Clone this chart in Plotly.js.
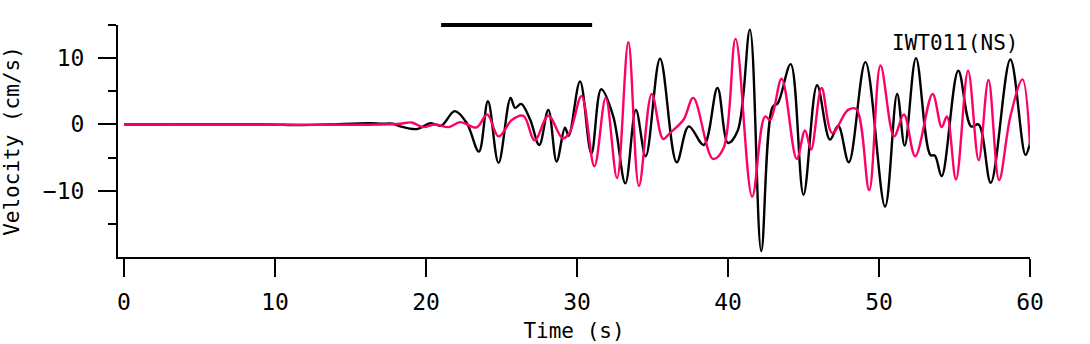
<!DOCTYPE html>
<html>
<head>
<meta charset="utf-8">
<script src="https://cdn.plot.ly/plotly-3.0.1.min.js"></script>
<style>html,body{margin:0;padding:0;background:#fff;}#chart{width:1090px;height:344px;}</style>
</head>
<body>
<div id="chart"></div>
<script>
// Black trace (time s, velocity cm/s)
const tBlack = [0, 5, 9.5, 11.6, 13.5, 16.3, 17.0, 17.8, 18.3, 19.4, 20.3, 21.0, 21.9, 22.7, 23.5, 24.1, 24.8, 25.6, 25.9, 26.3, 26.9, 27.5, 28.1, 28.65, 29.2, 29.45, 30.2, 30.95, 31.6, 32.4, 33.2, 33.9, 34.55, 35.5, 36.6, 37.4, 38.4, 39.3, 40.0, 40.65, 41.45, 42.2, 42.95, 43.3, 44.15, 45.0, 45.9, 46.75, 47.3, 48.0, 49.1, 50.4, 51.2, 51.7, 52.45, 53.4, 53.7, 54.15, 55.25, 56.1, 56.6, 57.4, 58.7, 59.7, 60.0];
const vBlack = [0, 0, 0, -0.1, 0, 0.2, 0.1, 0.1, -0.3, -0.7, 0.2, -0.2, 2.0, 0.2, -4.1, 3.5, -5.8, 4.0, 2.5, 3.1, 0.7, -3.1, 2.2, -5.6, -0.5, -1.7, 6.5, -4.4, 5.3, 1.2, -8.9, 2.2, -4.8, 9.9, -5.7, -0.3, -3.1, 5.5, -2.8, -0.9, 14.3, -19.1, 2.6, 3.2, 9.1, -10.6, 5.9, -2.3, -0.2, -5.7, 9.4, -12.4, 4.6, -3.2, 10.0, -4.6, -4.7, -7.8, 8.1, -0.3, 0.0, -8.8, 9.8, -4.6, -2.8];
// Pink trace
const tPink = [0, 17.0, 18.3, 19.05, 19.8, 20.6, 21.5, 22.25, 23.35, 24.05, 24.8, 25.7, 26.45, 27.2, 28.1, 29.05, 29.5, 30.3, 31.15, 31.9, 32.65, 33.4, 34.1, 34.95, 35.7, 36.15, 37.05, 37.7, 39.0, 39.7, 40.5, 41.6, 42.45, 42.8, 43.55, 44.55, 45.1, 45.5, 46.2, 46.9, 47.95, 48.5, 49.35, 50.1, 51.0, 51.65, 52.4, 53.55, 54.15, 54.5, 55.1, 55.9, 56.6, 57.25, 57.95, 58.7, 59.5, 60.0];
const vPink = [0, 0, 0.1, 0.3, -0.4, 0, -0.4, 0.35, -0.45, 1.5, -1.8, 0.7, 1.3, -2.4, 1.3, -2.1, -1.3, 4.3, -6.3, 4.0, -8.1, 12.4, -9.3, 4.6, -2.2, -1.3, 0.7, 4.0, -5.2, -3.6, 12.9, -10.9, 1.2, 0.7, 6.9, -5.2, -0.9, -3.8, 5.5, -1.3, 2.2, 2.3, -9.9, 8.9, -1.8, 1.5, -4.8, 4.6, -0.4, 1.2, -8.3, 8.1, -5.4, 6.7, -8.4, 1.2, 6.8, -3.3];
// Window bar
const barT = [21, 31];
const barV = [15, 15];
// Axis ticks
const xTicks = [0, 10, 20, 30, 40, 50, 60];
const yTicks = [-10, 0, 10];
const stationLabel = "IWT011(NS)";

const FONT = "DejaVu Sans Mono, Liberation Mono, monospace";
const yRange = [-20, 15];
const toPaperY = v => (v - yRange[0]) / (yRange[1] - yRange[0]);

const traces = [
  {x: tBlack, y: vBlack, mode: 'lines', line: {color: '#000000', width: 2.4, shape: 'spline', smoothing: 1}, hoverinfo: 'skip'},
  {x: tPink, y: vPink, mode: 'lines', line: {color: '#FF0066', width: 2.4, shape: 'spline', smoothing: 1}, hoverinfo: 'skip'}
];

const layout = {
  width: 1090, height: 344,
  margin: {l: 118, r: 60, t: 25, b: 87},
  paper_bgcolor: '#ffffff', plot_bgcolor: '#ffffff',
  showlegend: false,
  font: {family: FONT, color: '#000', size: 21},
  xaxis: {
    range: [-0.4, 60], tickvals: xTicks, ticktext: xTicks.map(String),
    showline: true, linecolor: '#000', linewidth: 2, mirror: false,
    ticks: 'outside', ticklen: 18, tickwidth: 2, tickcolor: '#000',
    showgrid: false, zeroline: false,
    tickfont: {family: FONT, size: 23, color: '#000'},
    ticklabelstandoff: 5,
    title: {text: 'Time (s)', font: {family: FONT, size: 21, color: '#000'}, standoff: 10},
    automargin: false, fixedrange: true
  },
  yaxis: {
    range: yRange, tickvals: yTicks, ticktext: yTicks.map(v => v < 0 ? '\u2212' + Math.abs(v) : String(v)),
    showline: true, linecolor: '#000', linewidth: 2,
    ticks: 'outside', ticklen: 18, tickwidth: 2, tickcolor: '#000',
    minor: {tickvals: [-15, -5, 5, 15], ticks: 'outside', ticklen: 8, tickwidth: 2, tickcolor: '#000'},
    showgrid: false, zeroline: false,
    tickfont: {family: FONT, size: 23, color: '#000'},
    ticklabelstandoff: 9,
    title: {text: 'Velocity (cm/s)', font: {family: FONT, size: 21, color: '#000'}, standoff: 22},
    automargin: false, fixedrange: true
  },
  shapes: [
    {type: 'line', xref: 'x', yref: 'paper', x0: barT[0], x1: barT[1], y0: toPaperY(barV[0]), y1: toPaperY(barV[1]),
     line: {color: '#000000', width: 4}, layer: 'above'}
  ],
  annotations: [
    {x: 55.0, y: 12.3, xref: 'x', yref: 'y', text: stationLabel, showarrow: false,
     font: {family: FONT, size: 21, color: '#000'}, xanchor: 'center', yanchor: 'middle'}
  ]
};

Plotly.newPlot('chart', traces, layout, {staticPlot: true, displayModeBar: false});
</script>
</body>
</html>
